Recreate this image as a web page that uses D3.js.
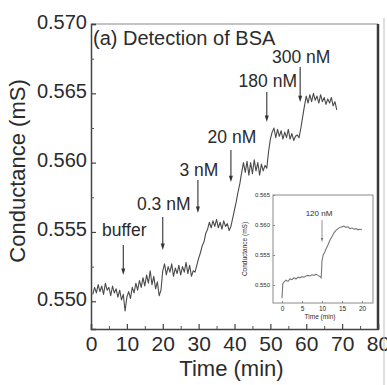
<!DOCTYPE html>
<html><head><meta charset="utf-8">
<script src="https://cdn.jsdelivr.net/npm/d3@7"></script>
<style>
body{margin:0;background:#fff}
svg{display:block}
text{font-family:"Liberation Sans",Arial,Helvetica,sans-serif;fill:#2b2b2b}
</style>
</head><body>
<svg id="chart" width="387" height="385"></svg>
<script>
// ---------------- data ----------------
const mainTime = [0.5,1,1.5,2,2.5,3,3.5,4,4.5,5,5.5,6,6.5,7,7.5,8,8.5,9,9.5,10,10.5,11,11.5,12,12.5,13,13.5,14,14.5,15,15.5,16,16.5,17,17.5,18,18.5,19,19.5,
  20,20.5,21,21.5,22,22.5,23,23.5,24,24.5,25,25.5,26,26.5,27,27.5,28,28.5,29,
  29.5,30,30.5,31,31.5,32,32.5,33,33.5,34,34.5,35,35.5,36,36.5,37,37.5,38,38.5,39,
  39.5,40,40.5,41,41.5,42,42.5,43,43.5,44,44.5,45,45.5,46,46.5,47,47.5,48,48.5,49,
  49.5,50,50.5,51,51.5,52,52.5,53,53.5,54,54.5,55,55.5,56,56.5,57,57.5,
  58,58.5,59,59.5,60,60.5,61,61.5,62,62.5,63,63.5,64,64.5,65,65.5,66,66.5,67,67.5,68,68.5];
const mainCond = [0.5505,0.5510,0.5506,0.5512,0.5507,0.5511,0.5505,0.5513,0.5508,0.5510,0.5504,0.5511,0.5506,0.5509,0.5503,0.5508,0.5501,0.5505,0.5493,0.5503,0.5507,0.5502,0.5510,0.5506,0.5513,0.5508,0.5515,0.5510,0.5517,0.5511,0.5519,0.5513,0.5522,0.5512,0.5518,0.5509,0.5514,0.5504,0.5508,
  0.5522,0.5527,0.5519,0.5525,0.5521,0.5527,0.5518,0.5524,0.5520,0.5526,0.5519,0.5525,0.5521,0.5528,0.5520,0.5526,0.5518,0.5522,0.5521,
  0.5526,0.5531,0.5535,0.5540,0.5543,0.5549,0.5552,0.5557,0.5553,0.5558,0.5554,0.5559,0.5553,0.5557,0.5552,0.5558,0.5554,0.5556,0.5551,0.5554,
  0.5560,0.5566,0.5572,0.5579,0.5585,0.5593,0.5600,0.5593,0.5601,0.5591,0.5600,0.5592,0.5602,0.5594,0.5600,0.5591,0.5599,0.5594,0.5598,0.5596,
  0.5608,0.5617,0.5622,0.5625,0.5618,0.5624,0.5619,0.5623,0.5617,0.5622,0.5618,0.5624,0.5617,0.5621,0.5616,0.5619,0.5620,
  0.5618,0.5625,0.5633,0.5641,0.5648,0.5643,0.5649,0.5644,0.5650,0.5645,0.5648,0.5643,0.5649,0.5644,0.5647,0.5642,0.5646,0.5643,0.5647,0.5641,0.5644,0.5638];

const xTicks = [0,10,20,30,40,50,60,70,80];
const xMinorTicks = [5,15,25,35,45,55,65,75];
const yTicks = [0.550,0.555,0.560,0.565,0.570];
const yMinorTicks = [0.5525,0.5575,0.5625,0.5675];

const annotLabels = ["buffer","0.3 nM","3 nM","20 nM","180 nM","300 nM"];
const annotTime = [9,20,29.8,39,49,58.3];
const annotTipCond = [0.55190,0.55370,0.55637,0.55860,0.56293,0.56437];

const insetTime = [0,0.2,0.5,1,1.5,2,2.5,3,3.5,4,4.5,5,5.5,6,6.5,7,7.5,8,8.5,9,9.5,9.8,10,10.3,10.7,11,11.5,12,12.5,13,13.5,14,14.5,15,15.5,16,16.5,17,17.5,18,18.5,19,19.5,20];
const insetCond = [0.5478,0.5502,0.5505,0.5508,0.5506,0.5510,0.5509,0.5512,0.5510,0.5513,0.5512,0.5514,0.5513,0.5515,0.5516,0.5515,0.5517,0.5516,0.5518,0.5516,0.5514,0.5512,0.5540,0.5550,0.5555,0.5560,0.5567,0.5575,0.5581,0.5587,0.5591,0.5594,0.5596,0.5597,0.5598,0.5596,0.5597,0.5594,0.5595,0.5593,0.5594,0.5592,0.5593,0.5592];
const insetXTicks = [0,5,10,15,20];
const insetYTicks = [0.550,0.555,0.560,0.565];
const insetAnnotLabel = "120 nM";
const insetAnnotTime = 10;
const insetAnnotTipCond = 0.55717;

// ---------------- layout ----------------
const svg = d3.select("#chart");
const M = {left:91, right:378, top:24, bottom:329};
const x = d3.scaleLinear().domain([0,80]).range([M.left, M.right]);
const y = d3.scaleLinear().domain([0.548,0.570]).range([M.bottom, M.top]);

// frame
svg.append("line").attr("x1",M.left).attr("x2",M.right).attr("y1",M.top).attr("y2",M.top)
  .attr("stroke","#8a8a8a").attr("stroke-width",1.2);
svg.append("line").attr("x1",M.right).attr("x2",M.right).attr("y1",M.top).attr("y2",M.bottom)
  .attr("stroke","#3a3a3a").attr("stroke-width",2.5);

// axes (ticks inward)
const yAxis = d3.axisLeft(y).tickValues(yTicks).tickFormat(d3.format(".3f")).tickSize(-5).tickPadding(4);
const gy = svg.append("g").attr("transform",`translate(${M.left},0)`).call(yAxis);
gy.select(".domain").attr("stroke","#444").attr("stroke-width",1.5);
gy.selectAll(".tick line").attr("stroke","#444").attr("stroke-width",1.2);
gy.selectAll("text").style("font-size","20px").attr("fill","#2b2b2b").attr("dy","0.2em");
const gym = svg.append("g").attr("transform",`translate(${M.left},0)`)
  .call(d3.axisLeft(y).tickValues(yMinorTicks).tickSize(-3).tickFormat(""));
gym.select(".domain").remove();
gym.selectAll(".tick line").attr("stroke","#555");

const xAxis = d3.axisBottom(x).tickValues(xTicks).tickFormat(d3.format("d")).tickSize(-5).tickPadding(7);
const gx = svg.append("g").attr("transform",`translate(0,${M.bottom})`).call(xAxis);
gx.select(".domain").attr("stroke","#444").attr("stroke-width",1.5);
gx.selectAll(".tick line").attr("stroke","#444").attr("stroke-width",1.2);
gx.selectAll("text").style("font-size","21px").attr("fill","#2b2b2b");
const gxm = svg.append("g").attr("transform",`translate(0,${M.bottom})`)
  .call(d3.axisBottom(x).tickValues(xMinorTicks).tickSize(-3).tickFormat(""));
gxm.select(".domain").remove();
gxm.selectAll(".tick line").attr("stroke","#555");

// axis titles
svg.append("text").attr("x",(M.left+M.right)/2-3).attr("y",376).attr("text-anchor","middle")
  .style("font-size","22px").text("Time (min)");
svg.append("text").attr("transform","translate(25,171) rotate(-90)").attr("text-anchor","middle")
  .style("font-size","22px").text("Conductance (mS)");

// panel title
svg.append("text").attr("x",93).attr("y",45).style("font-size","20px").text("(a) Detection of BSA");

// main trace
const line = d3.line().x((d,i)=>x(mainTime[i])).y(d=>y(d));
svg.append("path").datum(mainCond).attr("d",line).attr("fill","none")
  .attr("stroke","#4a4a4a").attr("stroke-width",1.1).attr("stroke-linejoin","round");

// arrows
const arrowLen = [30,33,33,32,30,35];
const labelGap = [9,7,4,7,5,4];
function arrow(g, px, tipY, len, size, color, w){
  g.append("line").attr("x1",px).attr("x2",px).attr("y1",tipY-len).attr("y2",tipY-size*1.4)
    .attr("stroke",color).attr("stroke-width",w);
  g.append("path").attr("d",`M${px-size/2},${tipY-size*1.6}L${px+size/2},${tipY-size*1.6}L${px},${tipY}Z`)
    .attr("fill",color);
}
annotLabels.forEach((lab,i)=>{
  const px = x(annotTime[i]), tip = y(annotTipCond[i]);
  arrow(svg, px, tip, arrowLen[i], 4, "#333", 1.1);
  svg.append("text").attr("x",px+1).attr("y",tip-arrowLen[i]-labelGap[i])
    .attr("text-anchor","middle").style("font-size","17.5px").text(lab);
});

// ---------------- inset ----------------
const I = {left:273, right:373, top:195, bottom:303};
const ix = d3.scaleLinear().domain([-2.25,22.75]).range([I.left,I.right]);
const iy = d3.scaleLinear().domain([0.547,0.565]).range([I.bottom,I.top]);
const ig = svg.append("g");
ig.append("rect").attr("x",I.left).attr("y",I.top).attr("width",I.right-I.left).attr("height",I.bottom-I.top)
  .attr("fill","#fff").attr("stroke","#8a8a8a").attr("stroke-width",1);
const igy = ig.append("g").attr("transform",`translate(${I.left},0)`)
  .call(d3.axisLeft(iy).tickValues(insetYTicks).tickFormat(d3.format(".3f")).tickSize(-2).tickPadding(3));
igy.select(".domain").remove();
igy.selectAll(".tick line").attr("stroke","#888");
igy.selectAll("text").style("font-size","6px").attr("fill","#666");
const igx = ig.append("g").attr("transform",`translate(0,${I.bottom})`)
  .call(d3.axisBottom(ix).tickValues(insetXTicks).tickFormat(d3.format("d")).tickSize(-2).tickPadding(3));
igx.select(".domain").remove();
igx.selectAll(".tick line").attr("stroke","#888");
igx.selectAll("text").style("font-size","6.5px").attr("fill","#666");
ig.append("text").attr("x",(I.left+I.right)/2-3).attr("y",319).attr("text-anchor","middle")
  .style("font-size","6.5px").attr("fill","#666").text("Time (min)");
ig.append("text").attr("transform",`translate(247,${(I.top+I.bottom)/2}) rotate(-90)`).attr("text-anchor","middle")
  .style("font-size","6.5px").attr("fill","#666").text("Conductance (mS)");
const iline = d3.line().x((d,i)=>ix(insetTime[i])).y(d=>iy(d));
ig.append("path").datum(insetCond).attr("d",iline).attr("fill","none")
  .attr("stroke","#777").attr("stroke-width",1.1);
const ipx = ix(insetAnnotTime), itip = iy(insetAnnotTipCond);
arrow(ig, ipx, itip, 22, 2.5, "#777", 0.8);
ig.append("text").attr("x",ipx-3).attr("y",itip-26).attr("text-anchor","middle")
  .style("font-size","8px").attr("fill","#555").text(insetAnnotLabel);

// right edge of neighbouring panel
svg.append("line").attr("x1",384).attr("x2",384).attr("y1",18).attr("y2",385)
  .attr("stroke","#bdbdbd").attr("stroke-width",1);
</script>
</body></html>
